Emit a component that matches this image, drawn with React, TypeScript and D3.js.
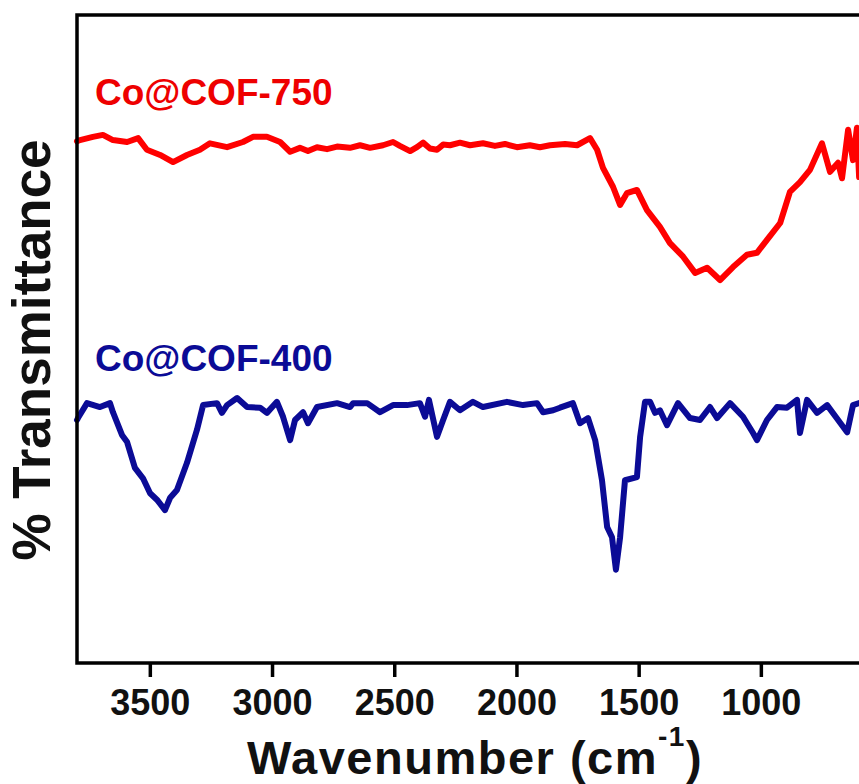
import React from "react";
import * as d3 from "d3";

// FTIR spectra: wavenumber (cm^-1) vs. transmittance (offset, arbitrary units)
const cof750Wavenumber = [
  3800, 3788, 3735, 3694, 3653, 3595, 3550, 3514, 3460, 3407, 3350, 3297, 3256, 3186, 3121, 3080,
  3023, 2969, 2928, 2888, 2855, 2818, 2777, 2736, 2683, 2642, 2601, 2548, 2507, 2479, 2437, 2409,
  2384, 2356, 2327, 2302, 2274, 2233, 2192, 2139, 2090, 2049, 2000, 1947, 1906, 1865, 1803, 1754,
  1701, 1672, 1648, 1607, 1578, 1550, 1509, 1468, 1415, 1374, 1320, 1271, 1222, 1169, 1116,
  1059, 1018, 977, 923, 883, 842, 801, 752, 719, 686, 670, 645, 625, 609, 600,
];
const cof750Transmittance = [
  80.5, 80.7, 81.2, 81.5, 80.7, 80.4, 81.0, 79.2, 78.4, 77.3, 78.4, 79.2, 80.2, 79.6, 80.4, 81.2,
  81.2, 80.4, 78.9, 79.5, 79.0, 79.6, 79.3, 79.7, 79.5, 79.9, 79.5, 79.9, 80.4, 79.8, 79.0, 79.6,
  80.3, 79.4, 79.2, 80.0, 79.9, 80.3, 79.9, 80.2, 79.8, 80.1, 79.6, 79.9, 79.6, 79.9, 80.1, 79.9,
  81.0, 79.2, 76.4, 73.5, 70.7, 72.5, 73.0, 69.9, 67.3, 64.8, 62.7, 60.2, 61.0, 59.1, 61.1,
  63.0, 63.3, 65.3, 67.9, 72.7, 74.2, 76.1, 80.2, 75.8, 77.2, 74.8, 82.3, 77.6, 82.6, 75.0,
];

const cof400Wavenumber = [
  3800, 3796, 3759, 3706, 3665, 3653, 3616, 3595, 3563, 3530, 3501, 3473, 3440, 3419, 3391, 3350,
  3309, 3284, 3227, 3207, 3186, 3145, 3104, 3051, 3023, 2982, 2957, 2928, 2908, 2875, 2855, 2818,
  2736, 2683, 2670, 2613, 2560, 2507, 2450, 2397, 2376, 2360, 2327, 2302, 2274, 2233, 2180, 2139,
  2041, 1975, 1918, 1893, 1852, 1824, 1771, 1742, 1709, 1680, 1652, 1631, 1611, 1595, 1578, 1558,
  1509, 1496, 1476, 1455, 1435, 1415, 1386, 1341, 1292, 1251, 1210, 1181, 1128, 1075, 1034, 1018,
  977, 936, 895, 854, 842, 813, 772, 731, 686, 649, 625, 600,
];
const cof400Transmittance = [
  37.5, 37.8, 40.1, 39.5, 40.1, 38.7, 35.2, 34.1, 30.1, 28.5, 26.2, 25.2, 23.6, 25.5, 26.7, 30.9,
  36.0, 39.8, 40.1, 38.6, 39.8, 40.9, 39.5, 39.4, 38.6, 40.3, 38.0, 34.4, 37.5, 38.7, 37.0, 39.5,
  40.1, 39.5, 40.1, 40.1, 38.7, 39.8, 39.8, 40.1, 38.0, 40.6, 34.9, 37.5, 40.3, 39.0, 40.3, 39.5,
  40.3, 39.8, 40.1, 38.7, 39.0, 39.4, 40.1, 37.0, 37.8, 34.4, 28.2, 21.0, 19.4, 14.4, 19.4, 28.2,
  28.7, 34.9, 40.3, 40.3, 38.6, 39.0, 36.7, 40.1, 37.8, 37.5, 39.5, 37.8, 40.1, 38.0, 35.5, 34.4,
  37.5, 39.5, 39.4, 40.6, 35.5, 40.6, 38.6, 39.8, 37.5, 35.6, 39.8, 40.1,
];

const xTicks = [3500, 3000, 2500, 2000, 1500, 1000];
const seriesNames = ["Co@COF-750", "Co@COF-400"];

const WIDTH = 859;
const HEIGHT = 784;
const left = 77;
const top = 15;
const bottom = 663;
const right = 908;

const FONT = "'Liberation Sans', Arial, Helvetica, sans-serif";

export default function App() {
  const x = d3.scaleLinear().domain([3800, 400]).range([left, right]);
  const y = d3.scaleLinear().domain([0, 100]).range([bottom, top]);

  const line = d3
    .line<[number, number]>()
    .x((d) => x(d[0]))
    .y((d) => y(d[1]))
    .curve(d3.curveLinear);

  const red = d3.zip(cof750Wavenumber, cof750Transmittance) as [number, number][];
  const blue = d3.zip(cof400Wavenumber, cof400Transmittance) as [number, number][];

  const redColor = "#ff0000";
  const blueColor = "#0b0b96";

  return (
    <svg
      width={WIDTH}
      height={HEIGHT}
      style={{ position: "absolute", left: 0, top: 0, background: "#fff" }}
      fontFamily={FONT}
    >
      <rect x={0} y={0} width={WIDTH} height={HEIGHT} fill="#fff" />

      {/* spectra */}
      <path d={line(red) ?? ""} fill="none" stroke={redColor} strokeWidth={6} strokeLinejoin="round" strokeLinecap="round" />
      <path d={line(blue) ?? ""} fill="none" stroke={blueColor} strokeWidth={6} strokeLinejoin="round" strokeLinecap="round" />

      {/* frame */}
      <rect x={left} y={top} width={right - left} height={bottom - top} fill="none" stroke="#000" strokeWidth={3.5} />

      {/* x ticks */}
      {xTicks.map((t) => (
        <g key={t} transform={`translate(${x(t)},0)`}>
          <line y1={bottom} y2={bottom + 14} stroke="#000" strokeWidth={3.5} />
          <text y={715} textAnchor="middle" fontSize={36} fontWeight="bold" fill="#111">
            {t}
          </text>
        </g>
      ))}

      {/* axis titles */}
      <text x={475} y={774} textAnchor="middle" fontSize={47} fontWeight="bold" fill="#111" letterSpacing={1.5}>
        Wavenumber (cm
        <tspan fontSize={28} dy={-28}>-1</tspan>
        <tspan dy={28}>)</tspan>
      </text>
      <text
        transform={`translate(50,350) rotate(-90)`}
        textAnchor="middle"
        fontSize={53}
        fontWeight="bold"
        fill="#111"
      >
        % Transmittance
      </text>

      {/* series labels */}
      <text x={95} y={105} fontSize={37} fontWeight="bold" fill="#ee0000">
        {seriesNames[0]}
      </text>
      <text x={95} y={371} fontSize={37} fontWeight="bold" fill={blueColor}>
        {seriesNames[1]}
      </text>
    </svg>
  );
}
